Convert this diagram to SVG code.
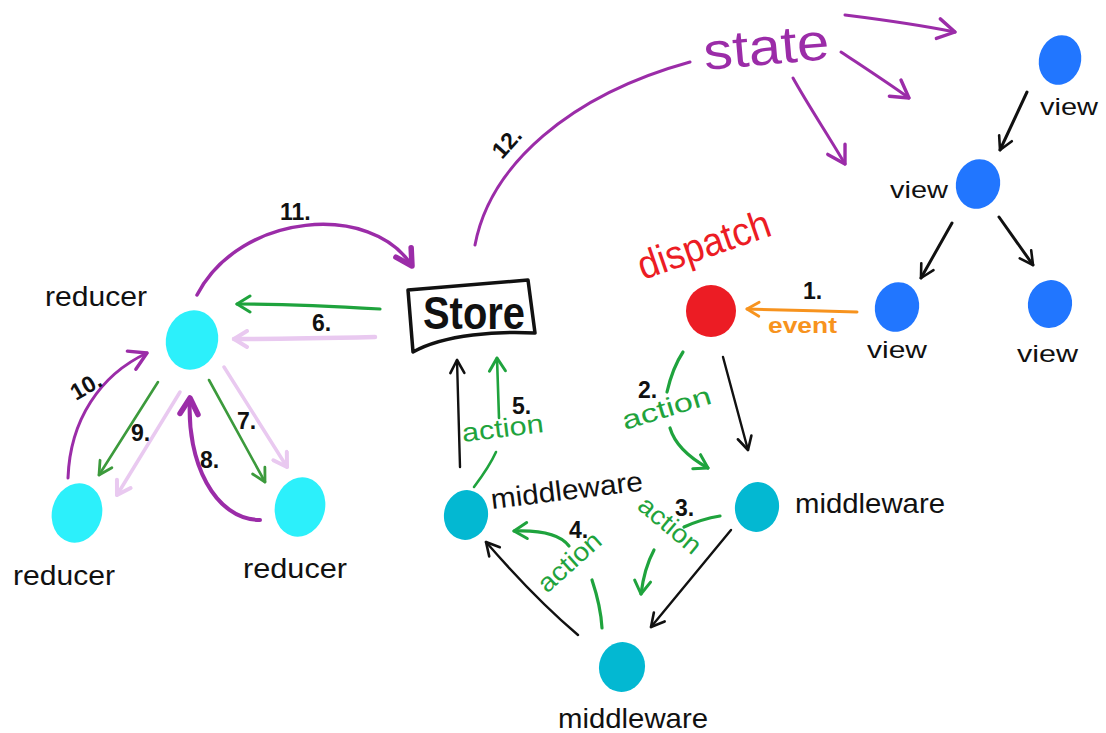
<svg xmlns="http://www.w3.org/2000/svg" width="1106" height="733" viewBox="0 0 1106 733">
  <style>
    .lbl { font-family: "Liberation Sans", "DejaVu Sans", sans-serif; fill: #111; }
    .num { font-family: "Liberation Sans", "DejaVu Sans", sans-serif; font-size: 23px; font-weight: bold; fill: #111; }
    .act { font-family: "Liberation Sans", "DejaVu Sans", sans-serif; font-size: 26px; fill: #1fa33d; }
    .ln { fill: none; stroke-linecap: round; stroke-linejoin: round; }
    .blk { stroke: #111; stroke-width: 2.4; }
    .grn { stroke: #1fa33d; stroke-width: 3.2; }
    .grn2 { stroke: #3c9a3c; stroke-width: 2.6; }
    .pur { stroke: #9b2ca8; stroke-width: 3; }
    .lpur { stroke: #e9c9f0; stroke-width: 4.5; }
    .org { stroke: #f7931e; stroke-width: 3; }
    .view { fill: #2176ff; }
    .mw { fill: #03b8d2; }
    .red { fill: #ec1c24; }
  </style>
  <defs>
    <marker id="hBlk" markerUnits="userSpaceOnUse" viewBox="-17 -10 20 20" refX="0" refY="0" markerWidth="20" markerHeight="20" orient="auto">
      <path d="M-13,-7 L0,0 L-13,7" fill="none" stroke="#111" stroke-width="2.6" stroke-linecap="round" stroke-linejoin="round"/>
    </marker>
    <marker id="hGrn" markerUnits="userSpaceOnUse" viewBox="-17 -10 20 20" refX="0" refY="0" markerWidth="20" markerHeight="20" orient="auto">
      <path d="M-13,-8 L0,0 L-13,8" fill="none" stroke="#1fa33d" stroke-width="3" stroke-linecap="round" stroke-linejoin="round"/>
    </marker>
    <marker id="hGrn2" markerUnits="userSpaceOnUse" viewBox="-17 -10 20 20" refX="0" refY="0" markerWidth="20" markerHeight="20" orient="auto">
      <path d="M-13,-7 L0,0 L-13,7" fill="none" stroke="#3c9a3c" stroke-width="2.8" stroke-linecap="round" stroke-linejoin="round"/>
    </marker>
    <marker id="hPur" markerUnits="userSpaceOnUse" viewBox="-22 -13 26 26" refX="0" refY="0" markerWidth="26" markerHeight="26" orient="auto">
      <path d="M-17,-10 L0,0 L-17,10" fill="none" stroke="#9b2ca8" stroke-width="3.4" stroke-linecap="round" stroke-linejoin="round"/>
    </marker>
    <marker id="hPurB" markerUnits="userSpaceOnUse" viewBox="-22 -13 26 26" refX="0" refY="0" markerWidth="26" markerHeight="26" orient="auto">
      <path d="M-16,-9 L0,0 L-16,9" fill="none" stroke="#9b2ca8" stroke-width="5.5" stroke-linecap="round" stroke-linejoin="round"/>
    </marker>
    <marker id="hLp" markerUnits="userSpaceOnUse" viewBox="-17 -10 20 20" refX="0" refY="0" markerWidth="20" markerHeight="20" orient="auto">
      <path d="M-13,-8 L0,0 L-13,8" fill="none" stroke="#e9c9f0" stroke-width="4" stroke-linecap="round" stroke-linejoin="round"/>
    </marker>
    <marker id="hOrg" markerUnits="userSpaceOnUse" viewBox="-17 -10 20 20" refX="0" refY="0" markerWidth="20" markerHeight="20" orient="auto">
      <path d="M-12,-7 L0,0 L-12,7" fill="none" stroke="#f7931e" stroke-width="2.8" stroke-linecap="round" stroke-linejoin="round"/>
    </marker>
  </defs>

  <rect width="1106" height="733" fill="#fff"/>

  <!-- connectors -->
  <g id="connectors">
    <!-- state to the views -->
    <path class="ln pur" d="M475,245 C490,165 570,95 690,62" />
    <path class="ln pur" d="M845,15 C885,20 925,26 955,32" marker-end="url(#hPur)"/>
    <path class="ln pur" d="M841,52 C865,68 888,83 909,98" marker-end="url(#hPur)"/>
    <path class="ln pur" d="M793,78 C808,105 828,135 845,164" marker-end="url(#hPur)"/>

    <!-- view tree -->
    <path class="ln blk" style="stroke-width:3" d="M1027,92 L1000,150" marker-end="url(#hBlk)"/>
    <path class="ln blk" style="stroke-width:3" d="M952,223 L921,278" marker-end="url(#hBlk)"/>
    <path class="ln blk" style="stroke-width:3" d="M999,217 L1033,265" marker-end="url(#hBlk)"/>

    <!-- 1. event -->
    <path class="ln org" d="M857,312 C820,311 785,310 747,309" marker-end="url(#hOrg)"/>

    <!-- 2. dispatch to middleware -->
    <path class="ln grn" d="M683,352 C675,364 670,379 667,392" />
    <path class="ln grn" d="M670,428 C675,445 690,458 708,468" marker-end="url(#hGrn)"/>
    <path class="ln blk" d="M723,357 L748,450" marker-end="url(#hBlk)"/>

    <!-- 3. -->
    <path class="ln grn" d="M720,516 C708,518 695,522 684,527" />
    <path class="ln grn" d="M654,550 C647,563 643,578 641,594" marker-end="url(#hGrn)"/>
    <path class="ln blk" d="M731,530 L651,627" marker-end="url(#hBlk)"/>

    <!-- 4. -->
    <path class="ln grn" d="M602,628 C601,610 597,595 592,580" />
    <path class="ln grn" d="M569,546 C560,534 540,530 514,531" marker-end="url(#hGrn)"/>
    <path class="ln blk" d="M578,635 C545,607 512,572 486,542" marker-end="url(#hBlk)"/>

    <!-- 5. -->
    <path class="ln grn" style="stroke-width:2.6" d="M474,487 C483,475 491,463 496,452" />
    <path class="ln grn" style="stroke-width:2.6" d="M499,418 L497,358" marker-end="url(#hGrn)"/>
    <path class="ln blk" d="M460,467 L457,360" marker-end="url(#hBlk)"/>

    <!-- 6. -->
    <path class="ln grn" d="M380,309 C330,306 280,304 237,304" marker-end="url(#hGrn)"/>
    <path class="ln lpur" d="M375,337 C330,338 280,339 234,339" marker-end="url(#hLp)"/>

    <!-- 7. and 9. -->
    <path class="ln grn2" d="M209,380 L265,482" marker-end="url(#hGrn2)"/>
    <path class="ln lpur" style="stroke-width:3.5" d="M224,367 L287,467" marker-end="url(#hLp)"/>
    <path class="ln grn2" d="M158,382 L99,475" marker-end="url(#hGrn2)"/>
    <path class="ln lpur" style="stroke-width:3.5" d="M180,392 L117,495" marker-end="url(#hLp)"/>

    <!-- 8. and 10. -->
    <path class="ln pur" style="stroke-width:4" d="M260,520 C215,520 186,462 190,398" marker-end="url(#hPurB)"/>
    <path class="ln pur" d="M68,478 C70,420 100,375 147,353" marker-end="url(#hPur)"/>

    <!-- 11. -->
    <path class="ln pur" style="stroke-width:3.5" d="M197,295 C240,212 372,202 412,266" marker-end="url(#hPurB)"/>
  </g>

  <!-- state -->
  <g id="state">
    <text x="705" y="70" transform="rotate(-5 705 70)" font-family="Liberation Sans, DejaVu Sans, sans-serif" font-size="52" fill="#9b2ca8" textLength="126" lengthAdjust="spacingAndGlyphs">state</text>
  </g>

  <!-- views -->
  <g id="view-top">
    <ellipse class="view" cx="1060" cy="60" rx="21" ry="25" transform="rotate(15 1060 60)"/>
    <text class="lbl" x="1040" y="115" font-size="24" textLength="58" lengthAdjust="spacingAndGlyphs">view</text>
  </g>
  <g id="view-mid">
    <ellipse class="view" cx="978" cy="184" rx="22" ry="25" transform="rotate(15 978 184)"/>
    <text class="lbl" x="890" y="198" font-size="24" textLength="58" lengthAdjust="spacingAndGlyphs">view</text>
  </g>
  <g id="view-left">
    <ellipse class="view" cx="897" cy="307" rx="22" ry="25" transform="rotate(15 897 307)"/>
    <text class="lbl" x="867" y="358" font-size="24" textLength="60" lengthAdjust="spacingAndGlyphs">view</text>
  </g>
  <g id="view-right">
    <ellipse class="view" cx="1050" cy="304" rx="22" ry="24" transform="rotate(15 1050 304)"/>
    <text class="lbl" x="1017" y="362" font-size="24" textLength="61" lengthAdjust="spacingAndGlyphs">view</text>
  </g>

  <!-- dispatch -->
  <g id="dispatch">
    <ellipse class="red" cx="711" cy="311" rx="25" ry="26"/>
    <text x="643" y="280" transform="rotate(-19 643 280)" font-family="Liberation Sans, DejaVu Sans, sans-serif" font-size="40" fill="#ec1c24" textLength="138" lengthAdjust="spacingAndGlyphs">dispatch</text>
  </g>

  <!-- store -->
  <g id="store">
    <path d="M408,290 L528,280 L535,333 C500,331 445,334 413,352 Z" fill="#fff" stroke="#111" stroke-width="3.5" stroke-linejoin="round"/>
    <text x="423" y="329" font-family="Liberation Sans, DejaVu Sans, sans-serif" font-size="46" font-weight="bold" fill="#111" textLength="102" lengthAdjust="spacingAndGlyphs">Store</text>
  </g>

  <!-- middleware -->
  <g id="mw-left">
    <ellipse class="mw" cx="466" cy="515" rx="22" ry="25" transform="rotate(10 466 515)"/>
    <text class="lbl" x="492" y="509" transform="rotate(-7 492 509)" font-size="28" textLength="153" lengthAdjust="spacingAndGlyphs">middleware</text>
  </g>
  <g id="mw-right">
    <ellipse class="mw" cx="757" cy="507" rx="22" ry="25" transform="rotate(10 757 507)"/>
    <text class="lbl" x="795" y="513" font-size="28" textLength="150" lengthAdjust="spacingAndGlyphs">middleware</text>
  </g>
  <g id="mw-bottom">
    <ellipse class="mw" cx="622" cy="667" rx="23" ry="25" transform="rotate(10 622 667)"/>
    <text class="lbl" x="558" y="728" font-size="28" textLength="150" lengthAdjust="spacingAndGlyphs">middleware</text>
  </g>

  <!-- reducers -->
  <g id="reducer-root">
    <ellipse cx="192" cy="340" rx="26" ry="30" fill="#2cf0fb" transform="rotate(15 192 340)"/>
    <text class="lbl" x="45" y="306" font-size="28" textLength="102" lengthAdjust="spacingAndGlyphs">reducer</text>
  </g>
  <g id="reducer-left">
    <ellipse cx="77" cy="513" rx="25" ry="30" fill="#2cf0fb" transform="rotate(15 77 513)"/>
    <text class="lbl" x="13" y="585" font-size="28" textLength="102" lengthAdjust="spacingAndGlyphs">reducer</text>
  </g>
  <g id="reducer-right">
    <ellipse cx="300" cy="507" rx="25" ry="30" fill="#2cf0fb" transform="rotate(15 300 507)"/>
    <text class="lbl" x="243" y="578" font-size="28" textLength="104" lengthAdjust="spacingAndGlyphs">reducer</text>
  </g>

  <!-- step numbers and edge labels -->
  <g id="labels">
    <text class="num" x="803" y="299">1.</text>
    <text x="768" y="333" font-family="Liberation Sans, DejaVu Sans, sans-serif" font-size="22" font-weight="bold" fill="#f7931e" textLength="69" lengthAdjust="spacingAndGlyphs">event</text>
    <text class="num" x="638" y="398">2.</text>
    <text class="act" x="625" y="430" transform="rotate(-17 625 430)" textLength="92" lengthAdjust="spacingAndGlyphs">action</text>
    <text class="num" x="675" y="516">3.</text>
    <text class="act" x="636" y="508" transform="rotate(40 636 508)" textLength="74" lengthAdjust="spacingAndGlyphs">action</text>
    <text class="num" x="569" y="538">4.</text>
    <text class="act" x="547" y="594" transform="rotate(-42 547 594)" textLength="76" lengthAdjust="spacingAndGlyphs">action</text>
    <text class="num" x="512" y="414">5.</text>
    <text class="act" x="463" y="442" transform="rotate(-7 463 442)" textLength="82" lengthAdjust="spacingAndGlyphs">action</text>
    <text class="num" x="312" y="331">6.</text>
    <text class="num" x="237" y="429">7.</text>
    <text class="num" x="200" y="468">8.</text>
    <text class="num" x="131" y="441">9.</text>
    <text class="num" x="76" y="401" transform="rotate(-30 76 401)">10.</text>
    <text class="num" x="280" y="220">11.</text>
    <text class="num" x="502" y="160" transform="rotate(-48 502 160)">12.</text>
  </g>
</svg>
